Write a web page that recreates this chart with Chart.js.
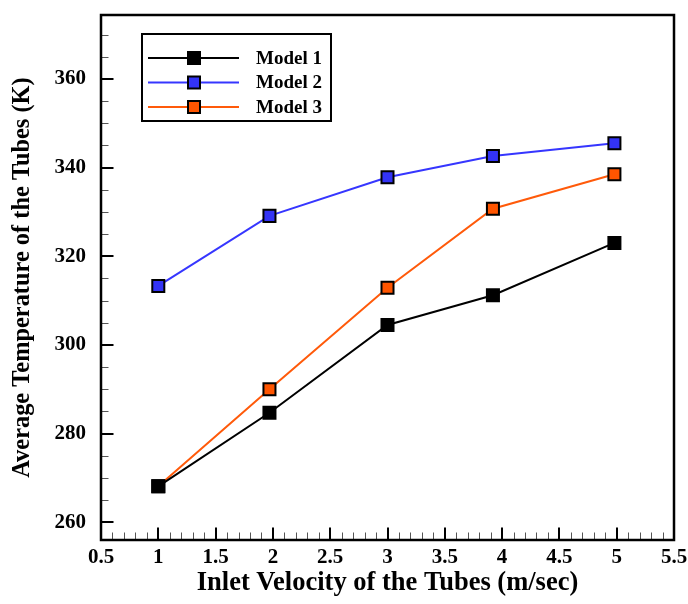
<!DOCTYPE html>
<html><head><meta charset="utf-8">
<script src="https://cdn.jsdelivr.net/npm/chart.js@4/dist/chart.umd.min.js"></script>
<style>html,body{margin:0;padding:0;background:#fff;} #wrap{width:688px;height:604px;}</style>
</head><body><div id="wrap"><canvas id="c" width="688" height="604"></canvas></div>
<script>
const velocity = [1, 1.97, 3, 3.92, 4.98];
const model1 = [268.1, 284.7, 304.5, 311.2, 323.0];
const model2 = [313.3, 329.1, 337.8, 342.6, 345.5];
const model3 = [268.1, 290.0, 312.9, 330.7, 338.5];
const seriesNames = ['Model 1', 'Model 2', 'Model 3'];
const xTickValues = [0.5, 1, 1.5, 2, 2.5, 3, 3.5, 4, 4.5, 5, 5.5];
const yTickValues = [260, 280, 300, 320, 340, 360];
const xMinorStep = 0.1;
const yMinorStep = 5;

const FONT = "'Liberation Serif', 'Times New Roman', serif";
const pts = (ys) => velocity.map((x, i) => ({x: x, y: ys[i]}));

const lineColors = ['#000000', '#3636ff', '#ff5a0a'];
const fillColors = ['#000000', '#3333f5', '#ff5500'];

const datasets = [model1, model2, model3].map((ys, i) => ({
  label: seriesNames[i],
  data: pts(ys),
  borderColor: lineColors[i],
  backgroundColor: fillColors[i],
  pointBackgroundColor: fillColors[i],
  pointBorderColor: '#000000',
  pointBorderWidth: 2,
  pointStyle: 'rect',
  pointRadius: 8.5,
  borderWidth: 2,
  tension: 0,
  fill: false
}));
datasets.forEach((d, i) => d.order = i === 2 ? 1 : (i === 0 ? 0 : 2));

const framePlugin = {
  id: 'frame',
  afterDraw(chart) {
    const ctx = chart.ctx;
    const a = chart.chartArea;
    const xs = chart.scales.x, ys = chart.scales.y;
    ctx.save();
    // minor ticks
    ctx.strokeStyle = '#555';
    ctx.lineWidth = 1;
    ctx.beginPath();
    for (let v = xs.min; v <= xs.max + 1e-9; v += xMinorStep) {
      const px = Math.round(xs.getPixelForValue(v)) + 0.5;
      ctx.moveTo(px, a.bottom); ctx.lineTo(px, a.bottom - 7.5);
    }
    for (let v = Math.ceil(ys.min / yMinorStep) * yMinorStep; v <= ys.max; v += yMinorStep) {
      const py = Math.round(ys.getPixelForValue(v)) + 0.5;
      ctx.moveTo(a.left, py); ctx.lineTo(a.left + 7.5, py);
    }
    ctx.stroke();
    // major ticks
    ctx.strokeStyle = '#000';
    ctx.lineWidth = 2;
    ctx.beginPath();
    xTickValues.forEach(v => {
      const px = Math.round(xs.getPixelForValue(v));
      ctx.moveTo(px, a.bottom); ctx.lineTo(px, a.bottom - 12.5);
    });
    yTickValues.forEach(v => {
      const py = Math.round(ys.getPixelForValue(v));
      ctx.moveTo(a.left, py); ctx.lineTo(a.left + 12.5, py);
    });
    ctx.stroke();
    // frame
    ctx.lineWidth = 2.5;
    ctx.strokeRect(a.left, a.top, a.right - a.left, a.bottom - a.top);
    // legend
    const lx = a.left + 41, ly = a.top + 19, lw = 189, lh = 87;
    ctx.fillStyle = '#fff';
    ctx.fillRect(lx, ly, lw, lh);
    ctx.lineWidth = 2;
    ctx.strokeStyle = '#000';
    ctx.strokeRect(lx, ly, lw, lh);
    chart.data.datasets.forEach((d, i) => {
      const ry = ly + 24 + i * 24.5;
      ctx.strokeStyle = d.borderColor;
      ctx.lineWidth = 2;
      ctx.beginPath();
      ctx.moveTo(lx + 6, ry); ctx.lineTo(lx + 97, ry);
      ctx.stroke();
      ctx.fillStyle = d.pointBackgroundColor;
      ctx.fillRect(lx + 46, ry - 6, 12, 12);
      ctx.strokeStyle = '#000';
      ctx.strokeRect(lx + 46, ry - 6, 12, 12);
      ctx.fillStyle = '#000';
      ctx.font = 'bold 19px ' + FONT;
      ctx.textBaseline = 'middle';
      ctx.textAlign = 'left';
      ctx.fillText(d.label, lx + 114, ry + 1);
    });
    ctx.restore();
  }
};

new Chart(document.getElementById('c'), {
  type: 'line',
  data: { datasets: datasets },
  options: {
    responsive: false,
    devicePixelRatio: 1,
    animation: false,
    layout: { padding: { top: 15, right: 14, left: 0, bottom: 0 } },
    plugins: { legend: { display: false }, tooltip: { enabled: false } },
    scales: {
      x: {
        type: 'linear',
        min: 0.5, max: 5.5,
        grid: { display: false, drawTicks: false },
        border: { display: false },
        afterBuildTicks: s => { s.ticks = xTickValues.map(v => ({value: v})); },
        afterFit: s => { s.height = 64; s.paddingLeft = 0; s.paddingRight = 0; s.paddingTop = 0; s.paddingBottom = 0; },
        ticks: {
          color: '#000', padding: 5,
          font: { family: FONT, size: 21, weight: 'bold' },
          maxRotation: 0, autoSkip: false,
          callback: v => String(v)
        },
        title: {
          display: true, text: 'Inlet Velocity of the Tubes (m/sec)', color: '#000',
          font: { family: FONT, size: 26.5, weight: 'bold' },
          padding: { top: 0, bottom: 5 }
        }
      },
      y: {
        type: 'linear',
        min: 256, max: 374.4,
        grid: { display: false, drawTicks: false },
        border: { display: false },
        afterBuildTicks: s => { s.ticks = yTickValues.map(v => ({value: v})); },
        afterFit: s => { s.width = 101; s.paddingTop = 0; s.paddingBottom = 0; s.paddingLeft = 0; s.paddingRight = 0; },
        ticks: {
          color: '#000', padding: 15,
          font: { family: FONT, size: 21, weight: 'bold' },
          autoSkip: false,
          callback: v => String(v)
        },
        title: {
          display: true, text: 'Average Temperature of the Tubes (K)', color: '#000',
          font: { family: FONT, size: 24.4, weight: 'bold' },
          padding: { top: 8, bottom: 0 }
        }
      }
    }
  },
  plugins: [framePlugin]
});
</script>
</body></html>
